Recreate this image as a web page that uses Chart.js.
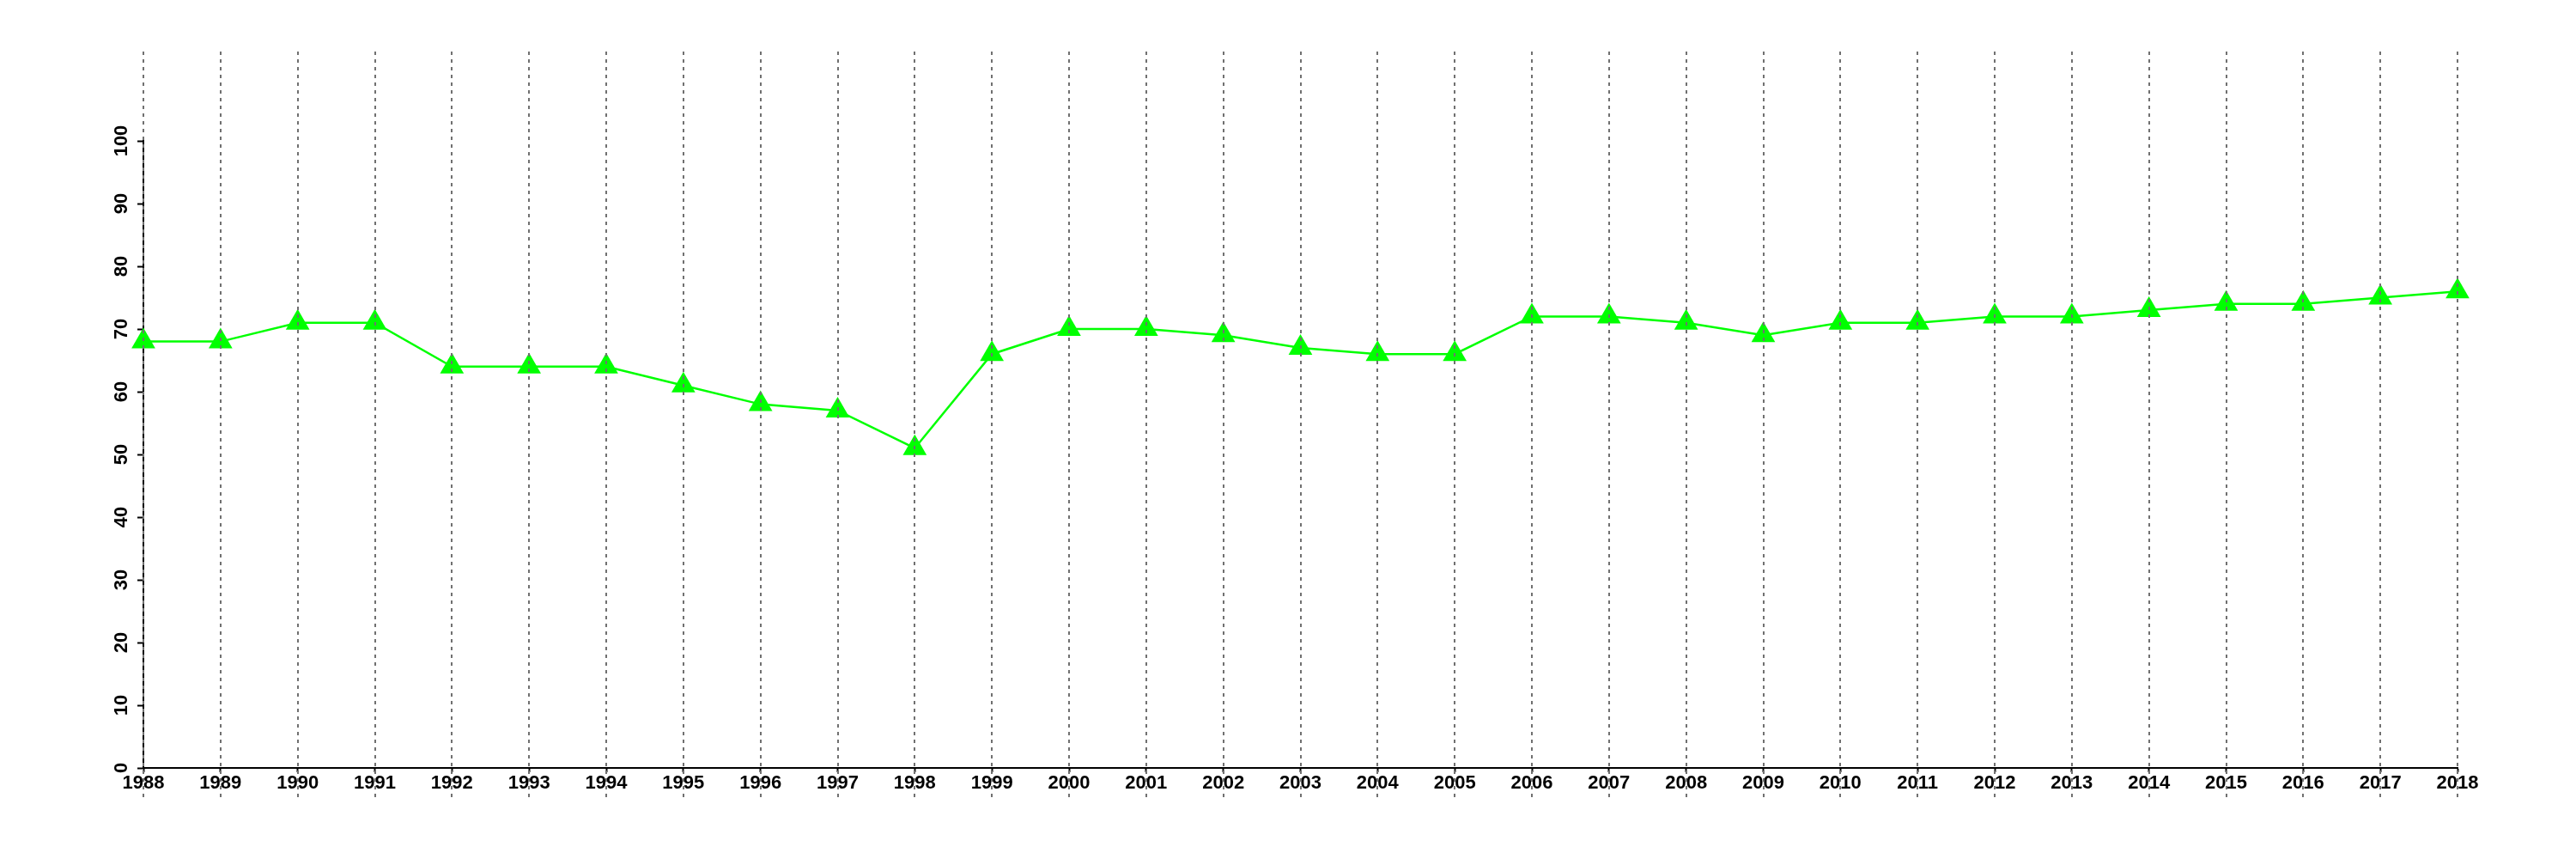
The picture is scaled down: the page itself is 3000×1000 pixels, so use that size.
<!DOCTYPE html>
<html>
<head>
<meta charset="utf-8">
<script src="https://cdn.jsdelivr.net/npm/chart.js@4"></script>
<style>
  html, body { margin: 0; padding: 0; background: #ffffff; }
  canvas { display: block; }
</style>
</head>
<body>
<canvas id="chart" width="3000" height="1000"></canvas>
<script>
// 数据
const years = ["1988", "1989", "1990", "1991", "1992", "1993", "1994", "1995", "1996", "1997",
               "1998", "1999", "2000", "2001", "2002", "2003", "2004", "2005", "2006", "2007",
               "2008", "2009", "2010", "2011", "2012", "2013", "2014", "2015", "2016", "2017", "2018"];
const values = [68, 68, 71, 71, 64, 64, 64, 61, 58, 57,
                51, 66, 70, 70, 69, 67, 66, 66, 72, 72,
                71, 69, 71, 71, 72, 72, 73, 74, 74, 75, 76];
const yMin = 0;
const yMax = 100;
const yStep = 10;

const tickFont = { family: "'Liberation Sans', Arial, sans-serif", size: 22, weight: "bold" };

// 竖直虚线（画在点之上，越过坐标区上下）
const dottedLines = {
    id: "dottedLines",
    afterDatasetsDraw(chart) {
        const ctx = chart.ctx;
        const xs = chart.scales.x;
        ctx.save();
        ctx.strokeStyle = "#707070";
        ctx.lineWidth = 2;
        ctx.setLineDash([4, 5]);
        xs.ticks.forEach((t, i) => {
            const px = Math.round(xs.getPixelForTick(i));
            ctx.beginPath();
            ctx.moveTo(px, 60);
            ctx.lineTo(px, 928);
            ctx.stroke();
        });
        ctx.restore();
    }
};

new Chart(document.getElementById("chart").getContext("2d"), {
    type: "line",
    data: {
        labels: years,
        datasets: [{
            data: values,
            borderColor: "#00ff00",
            backgroundColor: "#00ff00",
            borderWidth: 2.5,
            pointStyle: "triangle",
            pointRadius: 16,
            pointHoverRadius: 16,
            pointBorderWidth: 0,
            pointBackgroundColor: "#00ff00",
            tension: 0,
            fill: false,
            clip: false
        }]
    },
    options: {
        responsive: false,
        animation: false,
        devicePixelRatio: 1,
        layout: { padding: { left: 0, right: 138, top: 164, bottom: 66 } },
        plugins: {
            legend: { display: false },
            tooltip: { enabled: false }
        },
        scales: {
            x: {
                z: 1,
                offset: false,
                afterFit(scale) { scale.height = 40; },
                border: { display: true, color: "#000000", width: 2 },
                grid: { display: true, drawOnChartArea: false, drawTicks: true, tickLength: 5, tickColor: "#000000", tickWidth: 2 },
                ticks: { color: "#000000", font: tickFont, padding: 0, autoSkip: false, maxRotation: 0, minRotation: 0 }
            },
            y: {
                z: 1,
                min: yMin,
                max: yMax,
                afterFit(scale) { scale.width = 167; },
                border: { display: true, color: "#000000", width: 2 },
                grid: { display: true, drawOnChartArea: false, drawTicks: true, tickLength: 7, tickColor: "#000000", tickWidth: 2 },
                ticks: { stepSize: yStep, color: "#000000", font: tickFont, padding: 0, minRotation: 90, maxRotation: 90, crossAlign: "center" }
            }
        }
    },
    plugins: [dottedLines]
});
</script>
</body>
</html>
